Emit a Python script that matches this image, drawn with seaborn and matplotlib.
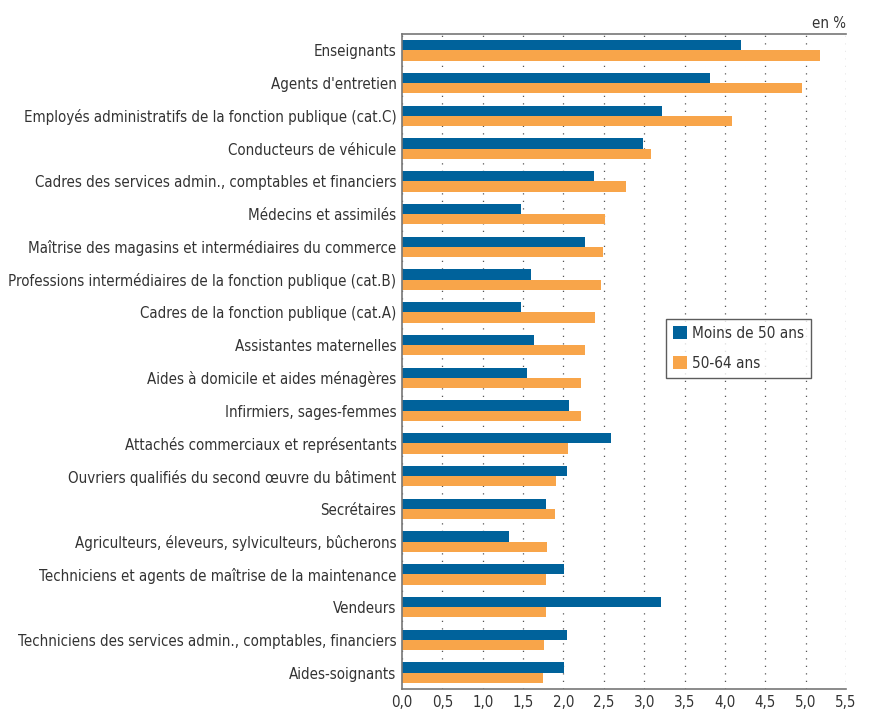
import numpy as np
import pandas as pd
import matplotlib
matplotlib.use("Agg")
import matplotlib.pyplot as plt
import seaborn as sns

# Data (en %)
categories = [
    "Enseignants",
    "Agents d'entretien",
    "Employés administratifs de la fonction publique (cat.C)",
    "Conducteurs de véhicule",
    "Cadres des services admin., comptables et financiers",
    "Médecins et assimilés",
    "Maîtrise des magasins et intermédiaires du commerce",
    "Professions intermédiaires de la fonction publique (cat.B)",
    "Cadres de la fonction publique (cat.A)",
    "Assistantes maternelles",
    "Aides à domicile et aides ménagères",
    "Infirmiers, sages-femmes",
    "Attachés commerciaux et représentants",
    "Ouvriers qualifiés du second œuvre du bâtiment",
    "Secrétaires",
    "Agriculteurs, éleveurs, sylviculteurs, bûcherons",
    "Techniciens et agents de maîtrise de la maintenance",
    "Vendeurs",
    "Techniciens des services admin., comptables, financiers",
    "Aides-soignants",
]
moins_50 = [4.20, 3.82, 3.22, 2.98, 2.38, 1.48, 2.27, 1.60, 1.47, 1.64,
            1.55, 2.07, 2.59, 2.04, 1.78, 1.32, 2.01, 3.21, 2.05, 2.01]
ans_50_64 = [5.18, 4.95, 4.09, 3.08, 2.77, 2.52, 2.49, 2.47, 2.39, 2.27,
             2.22, 2.22, 2.06, 1.91, 1.90, 1.80, 1.78, 1.78, 1.76, 1.75]
series = ["Moins de 50 ans", "50-64 ans"]
x_ticks = np.arange(0, 5.51, 0.5)

df = pd.DataFrame({
    "cat": categories * 2,
    "val": moins_50 + ans_50_64,
    "serie": [series[0]] * len(categories) + [series[1]] * len(categories),
})

sns.set_style("white")
plt.rcParams["font.family"] = ["DejaVu Sans"]
plt.rcParams["font.stretch"] = "condensed"

fig = plt.figure(figsize=(8.71, 7.13), dpi=100)
ax = fig.add_axes([0.4615, 0.0337, 0.5098, 0.9186])

sns.barplot(data=df, x="val", y="cat", hue="serie", order=categories,
            hue_order=series, palette=["#00629B", "#F8A54A"],
            width=0.62, gap=0, saturation=1, linewidth=0, ax=ax, orient="h")

ax.set_xlim(0, 5.5)
ax.set_ylim(len(categories) - 0.5, -0.5)
ax.set_xticks(x_ticks)
ax.set_xticklabels([f"{t:.1f}".replace(".", ",") for t in x_ticks])
ax.set_xlabel("")
ax.set_ylabel("")
ax.tick_params(axis="both", length=0, labelsize=10.8, colors="#333333", pad=4)
ax.xaxis.grid(True, linestyle=(0, (1, 5)), color="#555555", linewidth=0.9)
ax.set_axisbelow(True)

for side in ["left", "bottom", "top"]:
    ax.spines[side].set_color("#777777")
    ax.spines[side].set_linewidth(1.2)
ax.spines["right"].set_visible(False)

ax.text(1.0, 1.005, "en %", transform=ax.transAxes, ha="right", va="bottom",
        fontsize=10.8, color="#333333")

leg = ax.legend(loc="upper left", bbox_to_anchor=(0.585, 0.572), frameon=True,
                fancybox=False, fontsize=11, handlelength=0.9, handleheight=0.9,
                handletextpad=0.3, borderpad=0.45, labelspacing=1.0,
                borderaxespad=0.3)
leg.get_frame().set_edgecolor("#333333")
leg.get_frame().set_linewidth(1.0)
for t in leg.get_texts():
    t.set_color("#333333")

fig.savefig("out.png", dpi=100)
